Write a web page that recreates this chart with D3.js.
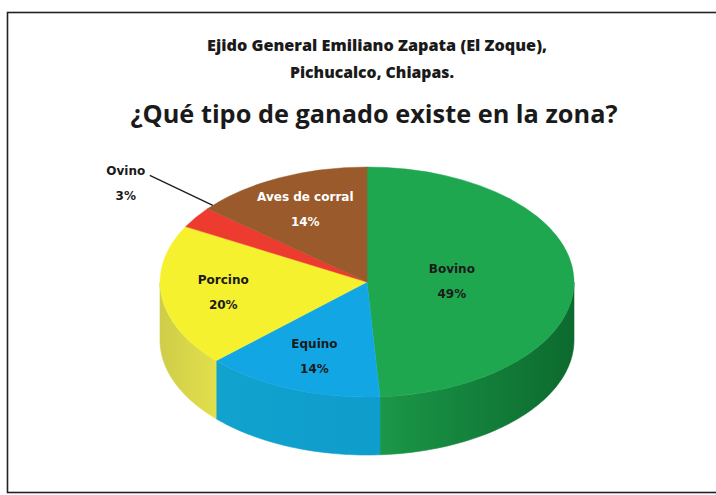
<!DOCTYPE html>
<html>
<head>
<meta charset="utf-8">
<script src="https://cdn.jsdelivr.net/npm/d3@7"></script>
<style>
  html, body { margin: 0; padding: 0; background: #fff; }
  svg { display: block; }
</style>
</head>
<body>
<svg id="chart" width="716" height="495"></svg>
<script>
// data
var categories = ["Bovino", "Equino", "Porcino", "Ovino", "Aves de corral"];
var values = [49, 14, 20, 3, 14];
var titleLines = ["Ejido General Emiliano Zapata (El Zoque),", "Pichucalco, Chiapas."];
var question = "¿Qué tipo de ganado existe en la zona?";

var svg = d3.select("#chart");

// frame of the chart area (right side runs off the picture)
svg.append("rect")
  .attr("x", 7.5).attr("y", 12.5)
  .attr("width", 760).attr("height", 480)
  .attr("fill", "#fff")
  .attr("stroke", "#222")
  .attr("stroke-width", 1.6);

// titles
var tfont = "'Open Sans', 'Noto Sans', sans-serif";
svg.append("text")
  .attr("x", 377).attr("y", 51)
  .attr("text-anchor", "middle")
  .attr("font-family", tfont).attr("font-weight", 800).attr("font-size", 15.5)
  .attr("fill", "#1a1a1a")
  .attr("textLength", 340).attr("lengthAdjust", "spacingAndGlyphs")
  .text(titleLines[0]);
svg.append("text")
  .attr("x", 372).attr("y", 78)
  .attr("text-anchor", "middle")
  .attr("font-family", tfont).attr("font-weight", 800).attr("font-size", 15.5)
  .attr("fill", "#1a1a1a")
  .attr("textLength", 164).attr("lengthAdjust", "spacingAndGlyphs")
  .text(titleLines[1]);
svg.append("text")
  .attr("x", 374).attr("y", 123)
  .attr("text-anchor", "middle")
  .attr("font-family", tfont).attr("font-weight", 700).attr("font-size", 25)
  .attr("fill", "#1a1a1a")
  .attr("textLength", 487).attr("lengthAdjust", "spacingAndGlyphs")
  .text(question);

// pie geometry (tilted ellipse)
var cx = 367, cy = 282, rx = 207, ry = 115, depth = 58;
var topColors = ["#1fa74f", "#12a7e4", "#f6f12f", "#ee3b30", "#9a5a2c"];
var sideFrom  = ["#1b9748", "#11a2cd", "#cfcd49", "#c9302a", "#7a4522"];
var sideTo    = ["#0c6a2e", "#0f9dcc", "#e2df4c", "#c9302a", "#7a4522"];
var labelK    = [0.41, 0.69, 0.70, 0, 0.70];
var labelFill = ["#1a1a1a", "#1a1a1a", "#1a1a1a", "#1a1a1a", "#ffffff"];

var pie = d3.pie().sort(null).value(function(d) { return d; });
var arcs = pie(values);

function pt(a, r, dy) {
  return [cx + rx * r * Math.sin(a), cy - ry * r * Math.cos(a) + (dy || 0)];
}

var defs = svg.append("defs");
arcs.forEach(function(d, i) {
  var g = defs.append("linearGradient").attr("id", "side" + i)
    .attr("x1", "0%").attr("x2", "100%").attr("y1", "0%").attr("y2", "0%");
  g.append("stop").attr("offset", "0%").attr("stop-color", sideFrom[i]);
  g.append("stop").attr("offset", "100%").attr("stop-color", sideTo[i]);
});

var line = d3.line();
var pieG = svg.append("g");

// front walls: only the part of each slice between 90° and 270° can be seen
arcs.forEach(function(d, i) {
  var s = Math.max(d.startAngle, Math.PI / 2);
  var e = Math.min(d.endAngle, 3 * Math.PI / 2);
  if (e <= s) return;
  var n = 60, pts = [], k;
  for (k = 0; k <= n; k++) pts.push(pt(s + (e - s) * k / n, 1, 0));
  for (k = n; k >= 0; k--) pts.push(pt(s + (e - s) * k / n, 1, depth));
  pieG.append("path")
    .attr("d", line(pts) + "Z")
    .attr("fill", "url(#side" + i + ")")
    .attr("stroke", "url(#side" + i + ")")
    .attr("stroke-width", 0.6);
});

// top faces
var arc = d3.arc().innerRadius(0).outerRadius(rx);
pieG.append("g")
  .attr("transform", "translate(" + cx + "," + cy + ") scale(1," + (ry / rx) + ")")
  .selectAll("path")
  .data(arcs)
  .enter().append("path")
  .attr("d", arc)
  .attr("fill", function(d, i) { return topColors[i]; })
  .attr("stroke", function(d, i) { return topColors[i]; })
  .attr("stroke-width", 0.6);

// labels
var lfont = "'DejaVu Sans', Verdana, sans-serif";
arcs.forEach(function(d, i) {
  var mid = (d.startAngle + d.endAngle) / 2;
  var p;
  if (labelK[i] > 0) {
    p = pt(mid, labelK[i], 0);
  } else {
    // small slice: label outside with a leader line
    var edge = pt(mid, 1, 0);
    p = [edge[0] - 70, edge[1] - 34];
    svg.append("path")
      .attr("d", line([[p[0] + 24, p[1] - 8], [edge[0] + 17, edge[1] - 12]]))
      .attr("fill", "none").attr("stroke", "#1a1a1a").attr("stroke-width", 1.2);
  }
  var t = svg.append("text")
    .attr("text-anchor", "middle")
    .attr("font-family", lfont).attr("font-weight", 700).attr("font-size", 12)
    .attr("fill", labelFill[i]);
  t.append("tspan").attr("x", p[0]).attr("y", p[1] - 8).text(categories[i]);
  t.append("tspan").attr("x", p[0]).attr("y", p[1] + 17).text(values[i] + "%");
});
</script>
</body>
</html>
